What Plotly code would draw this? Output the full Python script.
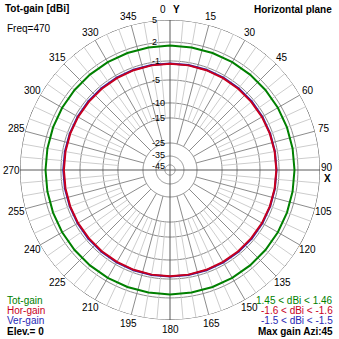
import numpy as np
import plotly.graph_objects as go

# ---------------- data ----------------
azimuth = [0, 10, 20, 30, 40, 50, 60, 70, 80, 90, 100, 110, 120, 130, 140, 150, 160, 170, 180,
           190, 200, 210, 220, 230, 240, 250, 260, 270, 280, 290, 300, 310, 320, 330, 340, 350, 360]
tot_gain = [1.45, 1.45, 1.45, 1.46, 1.46, 1.46, 1.46, 1.45, 1.45, 1.45, 1.45, 1.45, 1.46, 1.46,
            1.46, 1.45, 1.45, 1.45, 1.45, 1.45, 1.45, 1.46, 1.46, 1.46, 1.46, 1.45, 1.45, 1.45,
            1.45, 1.45, 1.46, 1.46, 1.46, 1.46, 1.45, 1.45, 1.45]
hor_gain = [-1.58, -1.59, -1.60, -1.61, -1.62, -1.62, -1.61, -1.59, -1.58, -1.57, -1.58, -1.59,
            -1.61, -1.62, -1.62, -1.61, -1.60, -1.59, -1.58, -1.59, -1.60, -1.61, -1.62, -1.62,
            -1.61, -1.60, -1.61, -1.62, -1.61, -1.60, -1.61, -1.62, -1.62, -1.61, -1.60, -1.59, -1.58]
ver_gain = [-1.52, -1.51, -1.50, -1.49, -1.48, -1.48, -1.49, -1.51, -1.52, -1.53, -1.52, -1.51,
            -1.49, -1.48, -1.48, -1.49, -1.50, -1.51, -1.52, -1.51, -1.50, -1.49, -1.48, -1.48,
            -1.49, -1.50, -1.49, -1.48, -1.49, -1.50, -1.49, -1.48, -1.48, -1.49, -1.50, -1.51, -1.52]
ring_db = [5, 2, -1, -5, -10, -15, -25, -35, -45]
ring_labels = ["5", "2", "-1", "-5", "-10", "-15", "-25", "-35", "-45"]
angle_ticks = [15, 30, 45, 60, 75, 105, 120, 135, 150, 165, 180, 195, 210, 225, 240, 255, 270,
               285, 300, 315, 330, 345]
angle_labels = [str(a) for a in angle_ticks]

MAX_DB = 5.0


def scale(db):
    """4nec2-style log radial scale (fraction of outer radius)."""
    rel = np.asarray(db, dtype=float) - MAX_DB
    return np.interp(rel, [-50, -40, -30, -20, -15, -10, -6, -3, 0],
                     [0.034, 0.093, 0.18, 0.347, 0.447, 0.6, 0.727, 0.853, 1.0])


FONT = "Liberation Sans, Arial, sans-serif"
GREEN = "#008000"
RED = "#c8001e"
BLUE = "#2828b4"

fig = go.Figure()
circ = np.arange(0, 361, 2)

# rings
for i, d in enumerate(ring_db):
    fig.add_trace(go.Scatterpolar(
        theta=circ, r=np.full(circ.shape, float(scale(d))), mode="lines",
        line=dict(color="#3a3a3a" if i == 0 else "#8c8c8c", width=1),
        hoverinfo="skip", showlegend=False))

# spokes
light_t, light_r, mid_t, mid_r, dark_t, dark_r = [], [], [], [], [], []
for a in range(0, 360, 5):
    if a % 90 == 0:
        dark_t += [a, a, None]
        dark_r += [0, 1, None]
    elif a % 15 == 0:
        mid_t += [a, a, None]
        mid_r += [float(scale(-25)), 1, None]
    else:
        light_t += [a, a, None]
        light_r += [float(scale(-15)), 1, None]
fig.add_trace(go.Scatterpolar(theta=light_t, r=light_r, mode="lines",
                              line=dict(color="#cdcdcd", width=1), hoverinfo="skip",
                              showlegend=False, connectgaps=False))
fig.add_trace(go.Scatterpolar(theta=mid_t, r=mid_r, mode="lines",
                              line=dict(color="#8c8c8c", width=1), hoverinfo="skip",
                              showlegend=False, connectgaps=False))
fig.add_trace(go.Scatterpolar(theta=dark_t, r=dark_r, mode="lines",
                              line=dict(color="#5a5a5a", width=1), hoverinfo="skip",
                              showlegend=False, connectgaps=False))

# data curves
fig.add_trace(go.Scatterpolar(theta=azimuth, r=scale(tot_gain), mode="lines",
                              line=dict(color=GREEN, width=2), name="Tot-gain", showlegend=False))
fig.add_trace(go.Scatterpolar(theta=azimuth, r=scale(ver_gain), mode="lines",
                              line=dict(color=BLUE, width=2), name="Ver-gain", showlegend=False))
fig.add_trace(go.Scatterpolar(theta=azimuth, r=scale(hor_gain), mode="lines",
                              line=dict(color=RED, width=2), name="Hor-gain", showlegend=False))

W = H = 339
CX, CY, R = 170, 170, 150

fig.update_layout(
    width=W, height=H, margin=dict(l=0, r=0, t=0, b=0),
    paper_bgcolor="white", plot_bgcolor="white",
    polar=dict(
        domain=dict(x=[(CX - R) / W, (CX + R) / W], y=[(H - CY - R) / H, (H - CY + R) / H]),
        bgcolor="white",
        radialaxis=dict(range=[0, 1], visible=False, showgrid=False),
        angularaxis=dict(rotation=90, direction="clockwise", showgrid=False,
                         showticklabels=False, showline=False, ticks=""),
    ),
    xaxis=dict(domain=[0, 1], range=[-CX / R, (W - CX) / R], visible=False, fixedrange=True),
    yaxis=dict(domain=[0, 1], range=[-(H - CY) / R, CY / R], visible=False, fixedrange=True),
    showlegend=False,
)
# invisible trace to activate the cartesian overlay
fig.add_trace(go.Scatter(x=[0], y=[0], mode="markers", marker=dict(opacity=0),
                         hoverinfo="skip", showlegend=False))

ann = []
# angle labels
for a, lab in zip(angle_ticks, angle_labels):
    t = np.radians(a)
    rr = 1.06
    ann.append(dict(x=rr * np.sin(t), y=rr * np.cos(t), xref="x", yref="y", text=lab,
                    showarrow=False, font=dict(family=FONT, size=10, color="black"),
                    xanchor="center", yanchor="middle"))
ann.append(dict(x=-0.045, y=1.067, xref="x", yref="y", text="0", showarrow=False,
                font=dict(family=FONT, size=10, color="black"), xanchor="center", yanchor="middle"))
ann.append(dict(x=0.045, y=1.067, xref="x", yref="y", text="<b>Y</b>", showarrow=False,
                font=dict(family=FONT, size=10, color="black"), xanchor="center", yanchor="middle"))
ann.append(dict(x=1.047, y=0.02, xref="x", yref="y", text="90", showarrow=False,
                font=dict(family=FONT, size=10, color="black"), xanchor="center", yanchor="middle"))
ann.append(dict(x=1.047, y=-0.055, xref="x", yref="y", text="<b>X</b>", showarrow=False,
                font=dict(family=FONT, size=10, color="black"), xanchor="center", yanchor="middle"))
# radial labels
shifts = {"-35": 1, "-45": -1}
for d, lab in zip(ring_db, ring_labels):
    ann.append(dict(x=-0.125, y=float(scale(d)), xref="x", yref="y", text=lab, showarrow=False,
                    font=dict(family=FONT, size=9, color="black"), xanchor="left",
                    yanchor="middle", yshift=shifts.get(lab, 0), borderpad=0))


def px(xp, yp, text, color="black", bold=False, anchor="left", size=10):
    return dict(x=xp / W, y=1 - yp / H, xref="paper", yref="paper",
                text=f"<b>{text}</b>" if bold else text, showarrow=False,
                font=dict(family=FONT, size=size, color=color), xanchor=anchor, yanchor="middle")


ann += [
    px(3, 8, "Tot-gain [dBi]", bold=True),
    px(5, 29, "Freq=470"),
    px(334, 9, "Horizontal plane", bold=True, anchor="right"),
    px(5, 300, "Tot-gain", color=GREEN),
    px(5, 310, "Hor-gain", color=RED),
    px(5, 320, "Ver-gain", color=BLUE),
    px(5, 331, "Elev.= 0", bold=True),
    px(335, 300, f"{min(tot_gain):.2f} < dBi < {max(tot_gain):.2f}", color=GREEN, anchor="right"),
    px(335, 310, f"{min(hor_gain):.1f} < dBi < {max(hor_gain):.1f}", color=RED, anchor="right"),
    px(335, 320, f"{min(ver_gain):.1f} < dBi < {max(ver_gain):.1f}", color=BLUE, anchor="right"),
    px(335, 331, "Max gain Azi:45", bold=True, anchor="right"),
]
fig.update_layout(annotations=ann)

fig.write_html("out.html")
